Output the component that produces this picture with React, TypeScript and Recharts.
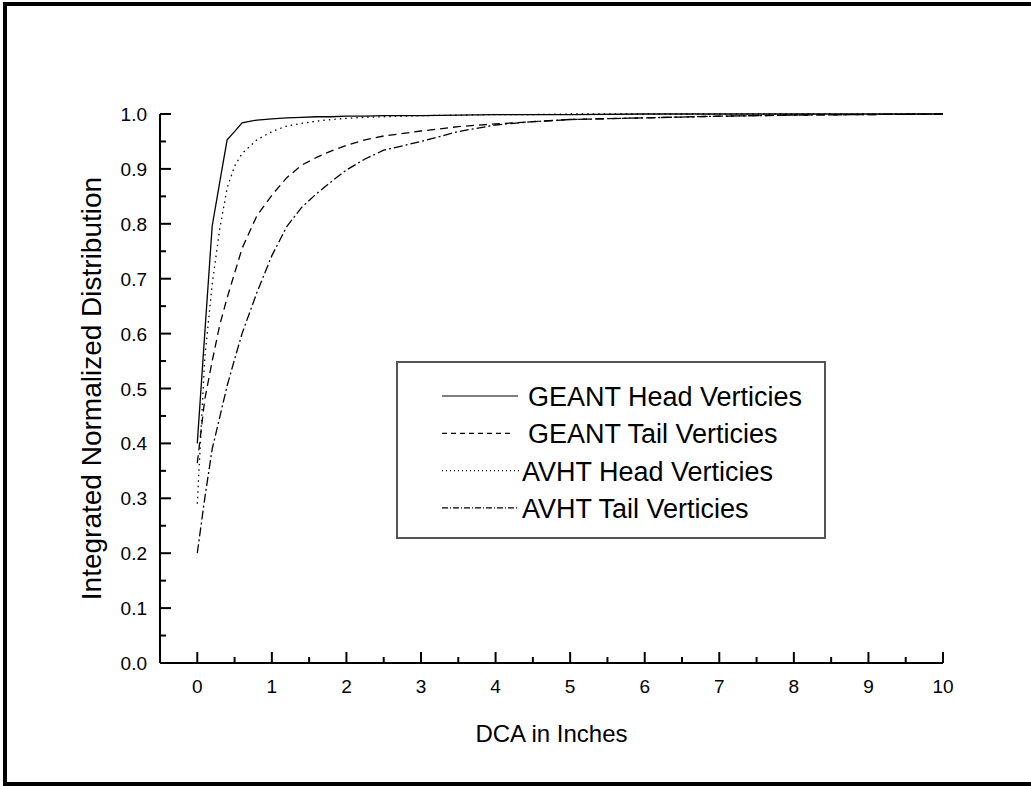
import { Label, Legend, Line, LineChart, XAxis, YAxis } from "recharts";

const FONT = "Arial, 'Liberation Sans', sans-serif";

// DCA (inches) sample points shared by all four curves
const DCA = [0, 0.1, 0.2, 0.3, 0.4, 0.5, 0.6, 0.8, 1.0, 1.2, 1.4, 1.6, 1.8, 2.0, 2.25, 2.5, 3.0, 3.5, 4.0, 4.5, 5.0, 6.0, 7.0, 8.0, 9.0, 10.0];

const GEANT_HEAD = [0.4, 0.6, 0.796, 0.875, 0.953, 0.968, 0.984, 0.989, 0.991, 0.993, 0.994, 0.995, 0.995, 0.996, 0.996, 0.997, 0.997, 0.998, 0.999, 0.999, 0.999, 1.0, 1.0, 1.0, 1.0, 1.0];
const GEANT_TAIL = [0.364, 0.48, 0.55, 0.615, 0.665, 0.71, 0.755, 0.815, 0.852, 0.884, 0.907, 0.921, 0.933, 0.943, 0.953, 0.96, 0.969, 0.977, 0.982, 0.986, 0.99, 0.993, 0.996, 0.998, 0.999, 1.0];
const AVHT_HEAD = [0.29, 0.555, 0.69, 0.79, 0.865, 0.905, 0.928, 0.953, 0.968, 0.978, 0.983, 0.987, 0.99, 0.992, 0.994, 0.995, 0.997, 0.998, 0.999, 0.999, 1.0, 1.0, 1.0, 1.0, 1.0, 1.0];
const AVHT_TAIL = [0.2, 0.3, 0.39, 0.447, 0.505, 0.553, 0.6, 0.675, 0.742, 0.795, 0.83, 0.855, 0.877, 0.898, 0.918, 0.934, 0.95, 0.968, 0.98, 0.986, 0.99, 0.993, 0.996, 0.998, 0.999, 1.0];

const X_TICKS = [0, 0.5, 1, 1.5, 2, 2.5, 3, 3.5, 4, 4.5, 5, 5.5, 6, 6.5, 7, 7.5, 8, 8.5, 9, 9.5, 10];
const Y_TICKS = [0, 0.05, 0.1, 0.15, 0.2, 0.25, 0.3, 0.35, 0.4, 0.45, 0.5, 0.55, 0.6, 0.65, 0.7, 0.75, 0.8, 0.85, 0.9, 0.95, 1.0];

const SERIES = [
  { key: "geantHead", name: "GEANT Head Verticies", dash: undefined, legendDash: undefined, legendEnd: 76, textDx: 0 },
  { key: "geantTail", name: "GEANT Tail Verticies", dash: "8 5", legendDash: "5 4", legendEnd: 68, textDx: 0 },
  { key: "avhtHead", name: "AVHT Head Verticies", dash: "1.5 4", legendDash: "1 3", legendEnd: 77, textDx: -6 },
  { key: "avhtTail", name: "AVHT Tail Verticies", dash: "9 3 2 3", legendDash: "6 2 1 2", legendEnd: 77, textDx: -6 },
];

const data = DCA.map((x, i) => ({
  x,
  geantHead: GEANT_HEAD[i],
  geantTail: GEANT_TAIL[i],
  avhtHead: AVHT_HEAD[i],
  avhtTail: AVHT_TAIL[i],
}));

const isMajor = (v: number, step: number) => Math.abs(v / step - Math.round(v / step)) < 1e-6;

function XTick(props: any) {
  const { x, y, payload } = props;
  const major = isMajor(payload.value, 1);
  return (
    <g>
      <line x1={x} x2={x} y1={y} y2={y - (major ? 11 : 6)} stroke="#000" strokeWidth={2} />
      {major && (
        <text x={x} y={y + 30} textAnchor="middle" fontSize={19} fontFamily={FONT} fill="#000">
          {payload.value}
        </text>
      )}
    </g>
  );
}

function YTick(props: any) {
  const { x, y, payload } = props;
  const major = isMajor(payload.value, 0.1);
  return (
    <g>
      <line x1={x} x2={x + (major ? 11 : 6)} y1={y} y2={y} stroke="#000" strokeWidth={2} />
      {major && (
        <text x={x - 13} y={y + 7} textAnchor="end" fontSize={19} fontFamily={FONT} fill="#000">
          {payload.value.toFixed(1)}
        </text>
      )}
    </g>
  );
}

function LegendBox() {
  return (
    <svg width={430} height={178} style={{ display: "block" }}>
      <rect x={1} y={1} width={428} height={176} fill="#fff" stroke="#555" strokeWidth={2} />
      {SERIES.map((s, i) => {
        const cy = 35 + i * 37.3;
        return (
          <g key={s.key}>
            <line x1={46} x2={46 + s.legendEnd} y1={cy} y2={cy} stroke="#000" strokeWidth={1.2} strokeDasharray={s.legendDash} />
            <text x={132 + s.textDx} y={cy + 10} fontSize={27} fontFamily={FONT} fill="#000">
              {s.name}
            </text>
          </g>
        );
      })}
    </svg>
  );
}

export default function App() {
  return (
    <div style={{ position: "absolute", left: 0, top: 0, width: 1031, height: 786, background: "#fff" }}>
      <div
        style={{
          position: "absolute",
          left: 3,
          top: 2,
          width: 1028,
          height: 784,
          boxSizing: "border-box",
          borderTop: "4px solid #000",
          borderLeft: "4px solid #000",
          borderBottom: "4px solid #000",
        }}
      />
      <div style={{ position: "absolute", left: 0, top: 0 }}>
        <LineChart width={1031} height={786} data={data} margin={{ top: 114, right: 88, bottom: 43, left: 80 }}>
          <XAxis
            dataKey="x"
            type="number"
            domain={[-0.5, 10]}
            ticks={X_TICKS}
            interval={0}
            allowDataOverflow
            height={80}
            tickSize={0}
            tickMargin={0}
            tickLine={false}
            axisLine={{ stroke: "#000", strokeWidth: 2 }}
            tick={<XTick />}
          >
            <Label
              content={(p: any) => {
                const vb = p.viewBox;
                return (
                  <text x={vb.x + vb.width / 2} y={742} textAnchor="middle" fontSize={24} fontFamily={FONT} fill="#000">
                    DCA in Inches
                  </text>
                );
              }}
            />
          </XAxis>
          <YAxis
            type="number"
            domain={[0, 1]}
            ticks={Y_TICKS}
            interval={0}
            width={80}
            tickSize={0}
            tickMargin={0}
            tickLine={false}
            axisLine={{ stroke: "#000", strokeWidth: 2 }}
            tick={<YTick />}
          >
            <Label
              content={(p: any) => {
                const vb = p.viewBox;
                const cx = vb.x + 21;
                const cy = vb.y + vb.height / 2;
                return (
                  <text
                    x={cx}
                    y={cy}
                    transform={`rotate(-90 ${cx} ${cy})`}
                    textAnchor="middle"
                    fontSize={28}
                    fontFamily={FONT}
                    fill="#000"
                  >
                    Integrated Normalized Distribution
                  </text>
                );
              }}
            />
          </YAxis>
          <Legend
            layout="vertical"
            align="center"
            verticalAlign="middle"
            wrapperStyle={{ position: "absolute", left: 396, top: 361, width: 430, height: 178 }}
            content={() => <LegendBox />}
          />
          {SERIES.map((s) => (
            <Line
              key={s.key}
              dataKey={s.key}
              name={s.name}
              type="linear"
              stroke="#000"
              strokeWidth={1.3}
              strokeDasharray={s.dash}
              dot={false}
              activeDot={false}
              isAnimationActive={false}
            />
          ))}
        </LineChart>
      </div>
    </div>
  );
}
